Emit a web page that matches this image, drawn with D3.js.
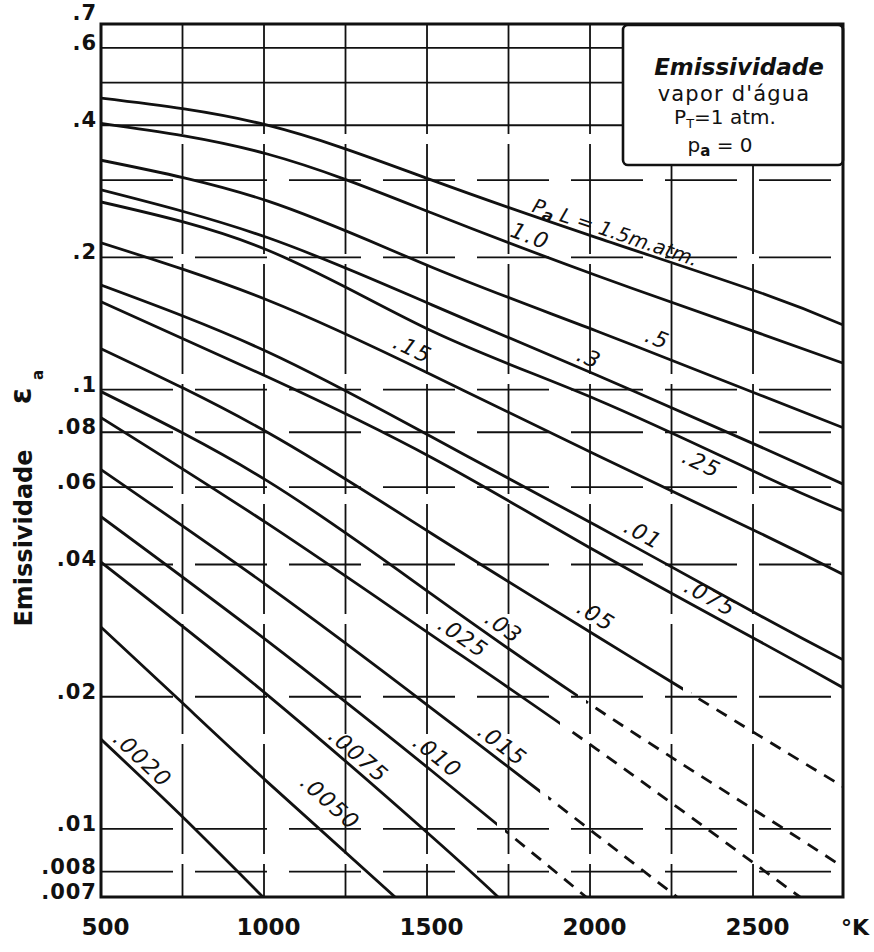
<!DOCTYPE html>
<html>
<head>
<meta charset="utf-8">
<script src="https://cdn.jsdelivr.net/npm/d3@7"></script>
<style>
  body { margin: 0; background: #fff; }
  text { font-family: "DejaVu Sans", sans-serif; fill: #111; }
</style>
</head>
<body>
<svg id="chart" width="874" height="952"></svg>
<script>

var temps = [500, 1010, 1515, 2020, 2525, 2775];

// emissivity of each PaL curve (m.atm) at those temperatures
var eps1_5  = [0.461, 0.400, 0.300, 0.222, 0.166, 0.1405];
var eps1_0  = [0.404, 0.344, 0.2525, 0.182, 0.134, 0.115];
var eps0_5  = [0.333, 0.269, 0.190, 0.136, 0.097, 0.082];
var eps0_3  = [0.285, 0.222, 0.156, 0.108, 0.074, 0.061];
var eps0_25 = [0.2675, 0.208, 0.136, 0.095, 0.064, 0.053];
var eps0_15 = [0.216, 0.160, 0.108, 0.071, 0.047, 0.038];
var eps0_1  = [0.173, 0.122, 0.078, 0.049, 0.0305, 0.0243];
var eps075  = [0.1585, 0.107, 0.070, 0.0428, 0.0266, 0.021];
var eps05   = [0.124, 0.080, 0.047, 0.0275, 0.0162, 0.0125];
var eps03   = [0.099, 0.062, 0.0342, 0.0188, 0.0108, 0.0082];

// the weaker curves run into the bottom of the chart
var temps025 = [500, 1010, 1515, 2020, 2644];
var eps025   = [0.0864, 0.0496, 0.0276, 0.0152, 0.007];
var temps015 = [500, 1010, 1515, 2020, 2267];
var eps015   = [0.0658, 0.0358, 0.0188, 0.0097, 0.007];
var temps010 = [500, 1010, 1515, 1988];
var eps010   = [0.0514, 0.0268, 0.01355, 0.007];
var temps0075 = [500, 1010, 1515, 1718];
var eps0075   = [0.0405, 0.0202, 0.0096, 0.007];
var temps0050 = [500, 742, 1010, 1402];
var eps0050   = [0.0288, 0.0196, 0.0128, 0.007];
var temps0020 = [500, 742, 997];
var eps0020   = [0.0160, 0.0108, 0.007];

// label written on each curve, top to bottom
var curveLabels = ["1.5", "1.0", ".5", ".3", ".25", ".15", ".01", ".075",
                   ".05", ".03", ".025", ".015", ".010", ".0075", ".0050", ".0020"];
// temperature where each label sits along its curve
var labelTemps = [2067, 1801, 2190, 1982, 2362, 1436, 2141, 2347,
                  1991, 1709, 1583, 1705, 1503, 1264, 1147, 598];
// above this temperature the curve is only dashed (0 = solid all the way)
var solidUntil = [0, 0, 0, 0, 0, 0, 0, 0, 2285, 1963, 1908, 1847, 1715, 0, 0, 0];

var yTicks = [0.7, 0.6, 0.4, 0.2, 0.1, 0.08, 0.06, 0.04, 0.02, 0.01, 0.008, 0.007];
var yTickLabels = [".7", ".6", ".4", ".2", ".1", ".08", ".06", ".04", ".02", ".01", ".008", ".007"];
var xTicks = [500, 1000, 1500, 2000, 2500];
var gridTemps = [750, 1000, 1250, 1500, 1750, 2000, 2250, 2500];
var gridEps = [0.6, 0.5, 0.4, 0.3, 0.2, 0.1, 0.08, 0.06, 0.04, 0.02, 0.01, 0.008];

var curves = [
    [temps, eps1_5], [temps, eps1_0], [temps, eps0_5], [temps, eps0_3],
    [temps, eps0_25], [temps, eps0_15], [temps, eps0_1], [temps, eps075],
    [temps, eps05], [temps, eps03], [temps025, eps025], [temps015, eps015],
    [temps010, eps010], [temps0075, eps0075], [temps0050, eps0050], [temps0020, eps0020]
].map(function(c) {
    return c[0].map(function(t, i) { return [t, c[1][i]]; });
});

var svg = d3.select("#chart");

var pLeft = 101, pRight = 843, pTop = 24, pBottom = 897;

var x = d3.scaleLinear().domain([500, 2776]).range([pLeft, pRight]);
var y = d3.scaleLog().domain([0.007, 0.68]).range([pBottom, pTop]);

var defs = svg.append("defs");
defs.append("clipPath").attr("id", "plotClip")
    .append("rect")
    .attr("x", pLeft).attr("y", pTop)
    .attr("width", pRight - pLeft).attr("height", pBottom - pTop);

// grid
var grid = svg.append("g")
    .attr("stroke", "#111")
    .attr("stroke-width", 1.8);

grid.selectAll("line.h")
    .data(gridEps)
    .enter().append("line")
    .attr("class", "h")
    .attr("x1", pLeft).attr("x2", pRight)
    .attr("y1", function(d) { return y(d); })
    .attr("y2", function(d) { return y(d); })
    .attr("stroke-dasharray", function(d) { return d >= 0.4 ? null : "72,22"; });

grid.selectAll("line.v")
    .data(gridTemps)
    .enter().append("line")
    .attr("class", "v")
    .attr("y1", pTop).attr("y2", pBottom)
    .attr("x1", function(d) { return x(d); })
    .attr("x2", function(d) { return x(d); })
    .attr("stroke-dasharray", "110,10");

// curves
var line = d3.line()
    .x(function(d) { return x(d[0]); })
    .y(function(d) { return y(d[1]); })
    .curve(d3.curveNatural);

var plot = svg.append("g").attr("clip-path", "url(#plotClip)");

var paths = [];
curves.forEach(function(c, i) {
    var s = solidUntil[i];
    var solid = plot.append("path")
        .attr("d", line(c))
        .attr("fill", "none")
        .attr("stroke", "#111")
        .attr("stroke-width", 2.8);
    paths.push(solid.node());

    if (s > 0) {
        // split the curve: solid part then dashed part
        defs.append("clipPath").attr("id", "solid" + i)
            .append("rect").attr("x", 0).attr("y", 0)
            .attr("width", x(s)).attr("height", 952);
        defs.append("clipPath").attr("id", "dash" + i)
            .append("rect").attr("x", x(s) + 8).attr("y", 0)
            .attr("width", 874).attr("height", 952);
        solid.attr("clip-path", "url(#solid" + i + ")");
        plot.append("path")
            .attr("d", line(c))
            .attr("fill", "none")
            .attr("stroke", "#111")
            .attr("stroke-width", 2.8)
            .attr("stroke-dasharray", "12,9")
            .attr("clip-path", "url(#dash" + i + ")");
    }
});

// find the spot on a path at a given x
function pointAtX(node, px) {
    var lo = 0, hi = node.getTotalLength();
    for (var k = 0; k < 40; k++) {
        var mid = (lo + hi) / 2;
        if (node.getPointAtLength(mid).x < px) lo = mid; else hi = mid;
    }
    var p = node.getPointAtLength(lo),
        a = node.getPointAtLength(Math.max(0, lo - 4)),
        b = node.getPointAtLength(lo + 4);
    return {x: p.x, y: p.y, angle: Math.atan2(b.y - a.y, b.x - a.x)};
}

// distance of each label from its curve (negative = below)
var labelGaps = [11, 14, 15, 13, -15, 15, 15, 15, 17, 15, 16, 14, 15, 13, 27, 14];

curveLabels.forEach(function(txt, i) {
    var p = pointAtX(paths[i], x(labelTemps[i]));
    var g = labelGaps[i];
    var cx = p.x + g * Math.sin(p.angle),
        cy = p.y - g * Math.cos(p.angle);
    var t = svg.append("text")
        .attr("transform", "translate(" + cx + "," + cy + ") rotate(" + (p.angle * 180 / Math.PI) + ")")
        .attr("text-anchor", "middle")
        .attr("dominant-baseline", "central")
        .attr("font-style", "italic");
    if (i == 0) {
        t.attr("font-size", 20);
        t.append("tspan").text("P");
        t.append("tspan").attr("dy", 5).attr("font-size", 16).attr("font-weight", "bold").text("a");
        t.append("tspan").attr("dy", -5).text(" L = 1.5m.atm.");
    } else {
        t.attr("font-size", 22)
            .attr("letter-spacing", 1.5)
            .text(txt);
    }
});

// axes
var yAxis = svg.append("g")
    .attr("transform", "translate(" + pLeft + ",0)")
    .call(d3.axisLeft(y).tickValues(yTicks)
        .tickFormat(function(d, i) { return yTickLabels[i]; })
        .tickSize(0).tickPadding(4));
yAxis.select(".domain").remove();
yAxis.selectAll("text")
    .attr("dy", "0.07em")
    .attr("font-family", "DejaVu Sans")
    .attr("font-weight", "bold")
    .attr("font-size", 21)
    .attr("letter-spacing", 1)
    .attr("fill", "#111");

var xAxis = svg.append("g")
    .attr("transform", "translate(4," + pBottom + ")")
    .call(d3.axisBottom(x).tickValues(xTicks)
        .tickFormat(d3.format("d"))
        .tickSize(0).tickPadding(22));
xAxis.select(".domain").remove();
xAxis.selectAll("text")
    .attr("font-family", "DejaVu Sans")
    .attr("font-weight", "bold")
    .attr("font-size", 23)
    .attr("fill", "#111");

svg.append("text")
    .attr("x", 855).attr("y", 935)
    .attr("text-anchor", "middle")
    .attr("font-weight", "bold")
    .attr("font-size", 22)
    .text("°K");

// axis title
svg.append("text")
    .attr("transform", "translate(32,538) rotate(-90)")
    .attr("text-anchor", "middle")
    .attr("font-weight", "bold")
    .attr("font-size", 24)
    .text("Emissividade");

svg.append("text")
    .attr("transform", "translate(31,396) rotate(-90)")
    .attr("text-anchor", "middle")
    .attr("font-weight", "bold")
    .attr("font-size", 30)
    .text("ε");
svg.append("text")
    .attr("transform", "translate(43,375) rotate(-90)")
    .attr("text-anchor", "middle")
    .attr("font-weight", "bold")
    .attr("font-size", 15)
    .text("a");

// legend box
var box = svg.append("g");
box.append("rect")
    .attr("x", 623).attr("y", pTop + 1)
    .attr("width", pRight - 623).attr("height", 140)
    .attr("rx", 5)
    .attr("fill", "#fff")
    .attr("stroke", "#111")
    .attr("stroke-width", 2.6);

box.append("text")
    .attr("x", 739).attr("y", 75)
    .attr("text-anchor", "middle")
    .attr("font-weight", "bold")
    .attr("font-style", "italic")
    .attr("font-size", 23)
    .text("Emissividade");

box.append("text")
    .attr("x", 734).attr("y", 101)
    .attr("text-anchor", "middle")
    .attr("font-size", 21)
    .attr("letter-spacing", 1.2)
    .text("vapor d'água");

var pt = box.append("text")
    .attr("x", 725).attr("y", 124)
    .attr("text-anchor", "middle")
    .attr("font-size", 20);
pt.append("tspan").text("P");
pt.append("tspan").attr("dy", 4).attr("font-size", 13).text("T");
pt.append("tspan").attr("dy", -4).text("=1 atm.");

var pa = box.append("text")
    .attr("x", 720).attr("y", 152)
    .attr("text-anchor", "middle")
    .attr("font-size", 20);
pa.append("tspan").text("p");
pa.append("tspan").attr("dy", 4).attr("font-size", 15).attr("font-weight", "bold").text("a");
pa.append("tspan").attr("dy", -4).text(" = 0");

// frame
svg.append("rect")
    .attr("x", pLeft).attr("y", pTop)
    .attr("width", pRight - pLeft).attr("height", pBottom - pTop)
    .attr("fill", "none")
    .attr("stroke", "#111")
    .attr("stroke-width", 3);

</script>
</body>
</html>
